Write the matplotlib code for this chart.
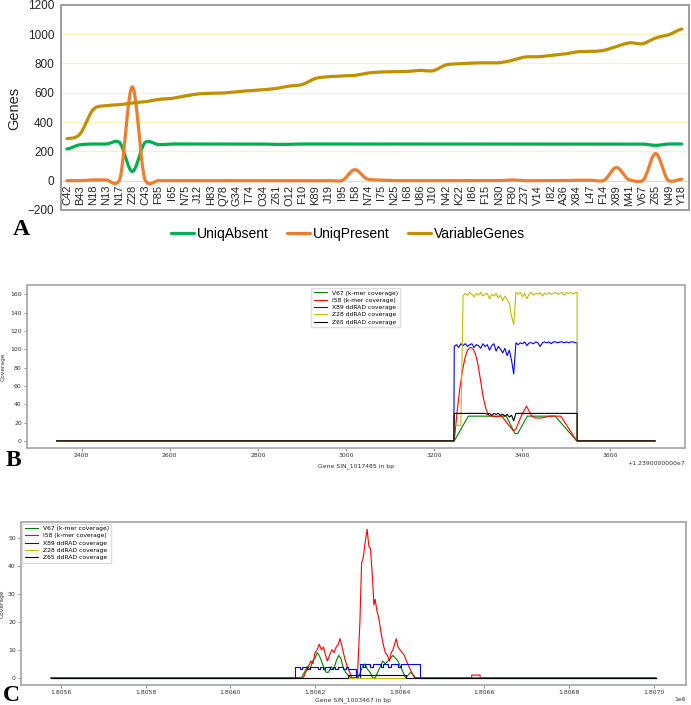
import numpy as np
import matplotlib
matplotlib.use('Agg')
import matplotlib.pyplot as plt
from matplotlib.ticker import MultipleLocator, FuncFormatter
from matplotlib.patches import Rectangle

# ---------------- panel A data ----------------
samples = ['C42', 'B43', 'N18', 'N13', 'N17', 'Z28', 'C43', 'F85', 'I65', 'N75', 'J12', 'H83',
           'Q78', 'G34', 'T74', 'O34', 'Z61', 'O12', 'F10', 'K89', 'J19', 'I95', 'I58', 'N74',
           'I75', 'N25', 'I68', 'U86', 'J10', 'N42', 'K22', 'I86', 'F15', 'N30', 'F80', 'Z37',
           'V14', 'I82', 'A36', 'X84', 'L47', 'F14', 'X89', 'M41', 'V67', 'Z65', 'N49', 'Y18']
uniq_absent = [216, 245, 250, 250, 262, 63, 262, 246, 250, 250, 250, 250,
               250, 250, 250, 250, 247, 248, 250, 250, 250, 250, 250, 250,
               250, 250, 250, 250, 250, 250, 250, 250, 250, 250, 250, 250,
               250, 250, 250, 250, 250, 250, 250, 250, 250, 241, 250, 250]
uniq_present = [0, 0, 5, 5, 0, 640, 0, 0, 0, 0, 0, 0,
                0, 0, 0, 0, 0, 0, 0, 0, 0, 0, 75, 10,
                5, 0, 0, 0, 0, 0, 0, 0, 0, 0, 5, 0,
                0, 0, 0, 3, 3, 0, 90, 5, 0, 185, 0, 10]
variable_genes = [286, 318, 484, 511, 518, 530, 538, 554, 561, 577, 591, 596,
                  598, 607, 614, 620, 629, 645, 656, 697, 709, 713, 718, 734,
                  741, 743, 745, 752, 750, 790, 797, 802, 804, 804, 820, 843,
                  845, 854, 863, 879, 881, 888, 915, 940, 934, 973, 995, 1034]

# ---------------- panel B data (x relative to 1.239e7) ----------------
b_start, b_on, b_off, b_end = 2343, 3245, 3525, 3702
b_pos = [3246, 3251, 3256, 3261, 3266, 3271, 3276, 3281, 3286, 3291, 3296, 3301, 3306, 3311,
         3316, 3321, 3326, 3331, 3336, 3341, 3346, 3351, 3356, 3361, 3366, 3371, 3376, 3381,
         3386, 3391, 3396, 3401, 3406, 3411, 3416, 3421, 3426, 3431, 3436, 3441, 3446, 3451,
         3456, 3461, 3466, 3471, 3476, 3481, 3486, 3491, 3496, 3501, 3506, 3511, 3516, 3521]
b_x89 = [103, 105, 102, 106, 104, 106, 103, 105, 106, 102, 105, 104, 101, 106,
         103, 105, 99, 104, 106, 98, 103, 100, 96, 101, 93, 99, 88, 73,
         107, 105, 107, 106, 108, 104, 107, 107, 106, 108, 107, 103, 107, 108,
         107, 108, 106, 108, 108, 107, 108, 108, 107, 108, 107, 108, 108, 107]
b_z28 = [17, 17, 17, 17, 158, 161, 159, 162, 160, 157, 161, 159, 162, 158,
         160, 161, 155, 160, 158, 161, 156, 159, 153, 158, 154, 150, 136, 127,
         162, 160, 162, 157, 161, 155, 160, 162, 159, 161, 160, 162, 158, 161,
         160, 162, 160, 161, 162, 160, 161, 162, 159, 162, 161, 162, 160, 162]
b_z65 = [30, 30, 30, 30, 30, 30, 30, 30, 30, 30, 30, 30, 30, 30,
         30, 29, 30, 28, 30, 29, 30, 28, 29, 27, 29, 26, 28, 22,
         30, 30, 30, 30, 30, 30, 30, 30, 30, 30, 30, 30, 30, 30,
         30, 30, 30, 30, 30, 30, 30, 30, 30, 30, 30, 30, 30, 30]
b_i58_x = [2343, 3246, 3252, 3258, 3264, 3270, 3276, 3282, 3288, 3294, 3300, 3306, 3312, 3318,
           3324, 3330, 3336, 3342, 3348, 3354, 3360, 3370, 3380, 3386, 3398, 3410, 3422, 3430,
           3445, 3455, 3462, 3488, 3524, 3702]
b_i58_y = [0, 0, 30, 55, 75, 90, 99, 102, 101, 95, 83, 65, 47, 35,
           28, 27, 27, 26, 27, 27, 23, 17, 11, 13, 27, 38, 27, 25,
           25, 26, 27, 27, 0, 0]
b_v67_x = [2343, 3246, 3278, 3364, 3384, 3390, 3412, 3475, 3524, 3702]
b_v67_y = [0, 0, 27, 27, 8, 8, 27, 27, 0, 0]

# ---------------- panel C data ----------------
c_start, c_end = 1805576, 1807005
c_i58_x = [1805576, 1806172, 1806178, 1806184, 1806190, 1806195, 1806200, 1806205, 1806210,
           1806215, 1806220, 1806225, 1806229, 1806234, 1806240, 1806245, 1806250, 1806255,
           1806259, 1806264, 1806270, 1806276, 1806282, 1806287, 1806300, 1806306, 1806310,
           1806314, 1806318, 1806323, 1806327, 1806331, 1806336, 1806339, 1806342, 1806346,
           1806351, 1806356, 1806361, 1806366, 1806371, 1806376, 1806380, 1806384, 1806388,
           1806392, 1806396, 1806401, 1806406, 1806411, 1806416, 1806422, 1806428, 1806435,
           1806570, 1806570, 1806590, 1806590, 1807005]
c_i58_y = [0, 0, 2, 4, 6, 5, 9, 10, 12,
           10, 11, 8, 6, 8, 10, 9, 11, 12,
           14, 11, 7, 4, 2, 0, 0, 20, 41,
           43, 48, 53, 47, 46, 35, 26, 28, 24,
           21, 16, 12, 9, 8, 6, 9, 10, 12,
           14, 11, 10, 9, 8, 6, 4, 2, 0,
           0, 1, 1, 0, 0]
c_v67_x = [1805576, 1806168, 1806175, 1806182, 1806188, 1806194, 1806200, 1806205, 1806210,
           1806215, 1806220, 1806226, 1806232, 1806238, 1806244, 1806250, 1806256, 1806261,
           1806266, 1806272, 1806278, 1806284, 1806302, 1806307, 1806312, 1806318, 1806324,
           1806330, 1806336, 1806342, 1806348, 1806354, 1806360, 1806366, 1806372, 1806378,
           1806384, 1806390, 1806396, 1806402, 1806408, 1806414, 1806420, 1806426, 1806432,
           1806438, 1807005]
c_v67_y = [0, 0, 2, 4, 3, 6, 7, 9, 8,
           6, 4, 2, 2, 4, 3, 6, 8, 7,
           4, 2, 1, 0, 0, 2, 4, 5, 3,
           2, 0, 0, 2, 4, 6, 5, 6, 7,
           8, 7, 6, 4, 2, 0, 1, 2, 1,
           0, 0]
c_x89_pos1 = [1806152, 1806158, 1806164, 1806170, 1806176, 1806182, 1806188, 1806194,
              1806200, 1806206, 1806212, 1806218, 1806224, 1806230, 1806236, 1806242,
              1806248, 1806254, 1806260, 1806266, 1806272, 1806278, 1806284, 1806290]
c_x89_val1 = [4, 4, 3, 4, 4, 3, 4, 4, 4, 3, 4, 3, 4, 4, 3, 4, 3, 4, 4, 3, 4, 3, 3, 3]
c_x89_pos2 = [1806307, 1806313, 1806319, 1806325, 1806331, 1806337, 1806343, 1806349,
              1806355, 1806361, 1806367, 1806373, 1806379, 1806385, 1806391, 1806397,
              1806403, 1806409, 1806415, 1806421, 1806427, 1806433, 1806439, 1806445]
c_x89_val2 = [5, 4, 5, 5, 4, 5, 5, 5, 4, 5, 5, 4, 5, 5, 5, 4, 5, 5, 5, 5, 5, 5, 5, 5]
c_x89_gap, c_x89_off = 1806297, 1806447
c_z65_x = [1805576, 1806277, 1806416, 1807005]
c_z65_y = [0, 1, 0, 0]

legend_labels = ['V67 (k-mer coverage)', 'I58 (k-mer coverage)', 'X89 ddRAD coverage',
                 'Z28 ddRAD coverage', 'Z65 ddRAD coverage']


def smooth(xs, ys, s=1.0, n=24):
    # Excel style smoothed line: cubic hermite through the points, s scales the slopes
    xs = np.asarray(xs, float)
    ys = np.asarray(ys, float)
    yp = np.concatenate([[ys[0]], ys, [ys[-1]]])
    m = (yp[2:] - yp[:-2]) / 2 * s
    t = np.linspace(0, 1, n)
    ox, oy = [], []
    for i in range(len(xs) - 1):
        h00 = 2 * t ** 3 - 3 * t ** 2 + 1
        h10 = t ** 3 - 2 * t ** 2 + t
        h01 = -2 * t ** 3 + 3 * t ** 2
        h11 = t ** 3 - t ** 2
        ox.append(xs[i] + t * (xs[i + 1] - xs[i]))
        oy.append(h00 * ys[i] + h10 * m[i] + h01 * ys[i + 1] + h11 * m[i + 1])
    return np.concatenate(ox), np.concatenate(oy)


W, H = 691, 705
fig = plt.figure(figsize=(W / 100, H / 100), dpi=100)

# ---------------- panel A ----------------
sans = 'Liberation Sans'
axA = fig.add_axes([61 / W, 1 - 210 / H, 628 / W, 205.3 / H])
idx = np.arange(len(samples))
for vals, col, lab, s in [(uniq_absent, '#00B050', 'UniqAbsent', 0.6),
                          (uniq_present, '#ED7D31', 'UniqPresent', 0.45),
                          (variable_genes, '#BF9000', 'VariableGenes', 1.0)]:
    sx, sy = smooth(idx, vals, s)
    axA.plot(sx, sy, color=col, lw=2.3, label=lab, solid_capstyle='round')
axA.set_xlim(-0.45, len(samples) - 0.45)
axA.set_ylim(-200, 1200)
axA.set_yticks(range(-200, 1201, 200))
for v in range(200, 1200, 200):
    axA.axhline(v, color='#FFF0C0', lw=0.9, zorder=0)
for sp in ['top', 'left', 'right']:
    axA.spines[sp].set_visible(False)
axA.spines['bottom'].set_position(('data', 0))
axA.spines['bottom'].set_color('#D9D9D9')
axA.spines['bottom'].set_zorder(0)
axA.add_patch(Rectangle((0, 0), 1, 1, transform=axA.transAxes, fill=False,
                        edgecolor='#8C8C8C', lw=1.2, clip_on=False))
axA.set_xticks(idx)
axA.set_xticklabels(samples, rotation=90, fontsize=8, family=sans, color='#262626')
axA.tick_params(axis='both', length=0)
axA.tick_params(axis='x', pad=3)
axA.tick_params(axis='y', pad=5)
for lb in axA.get_yticklabels():
    lb.set_fontsize(8.5)
    lb.set_family(sans)
    lb.set_color('#262626')
fig.text(14 / W, 1 - 108 / H, 'Genes', rotation=90, ha='center', va='center',
         fontsize=10.5, family=sans, color='#262626')
fig.legend(*axA.get_legend_handles_labels(), loc='center', bbox_to_anchor=(348 / W, 1 - 234 / H),
           ncol=3, frameon=False, handlelength=1.65, handletextpad=0.2, columnspacing=1.35,
           prop={'family': sans, 'size': 10})

colors = ['g', 'r', 'b', 'y', 'k']


def style_cov(ax):
    for sp in ax.spines.values():
        sp.set_color('#ABABAB')
        sp.set_linewidth(1.3)
    ax.tick_params(labelsize=4.4, length=2, width=0.5, color='#666666', pad=1.5,
                   labelcolor='#333333')


# ---------------- panel B ----------------
axB = fig.add_axes([26.7 / W, 1 - 448.3 / H, 658.3 / W, 163.3 / H])
bx = [b_start, b_on] + b_pos + [b_off, b_off, b_end]
axB.plot(b_v67_x, b_v67_y, color=colors[0], lw=0.8, label=legend_labels[0])
axB.plot(b_i58_x, b_i58_y, color=colors[1], lw=0.8, label=legend_labels[1])
for vals, col, lab in [(b_x89, colors[2], legend_labels[2]),
                       (b_z28, colors[3], legend_labels[3]),
                       (b_z65, colors[4], legend_labels[4])]:
    axB.plot(bx, [0, 0] + vals + [vals[-1], 0, 0], color=col, lw=0.8, label=lab)
axB.xaxis.set_major_locator(MultipleLocator(200))
axB.yaxis.set_major_locator(MultipleLocator(20))
style_cov(axB)
axB.set_ylabel('Coverage', fontsize=4.2, color='#333333')
axB.yaxis.set_label_coords(-0.032, 0.5)
axB.set_xlabel('Gene SIN_1017485 in bp', fontsize=4.4, color='#333333')
axB.xaxis.set_label_coords(0.5, -0.093)
axB.text(1.0, -0.092, '+1.2390000000e7', transform=axB.transAxes, ha='right', va='center',
         fontsize=4.4, color='#333333')
axB.legend(loc='upper center', fontsize=4.3, handlelength=2.2, labelspacing=0.35,
           borderpad=0.4, framealpha=1, edgecolor='#DDDDDD', fancybox=False)

# ---------------- panel C ----------------
axC = fig.add_axes([20.7 / W, 1 - 685.3 / H, 665.3 / W, 163.5 / H])
axC.plot(c_v67_x, c_v67_y, color=colors[0], lw=0.8, label=legend_labels[0])
axC.plot(c_i58_x, c_i58_y, color=colors[1], lw=0.8, label=legend_labels[1])
cx = [c_start] + c_x89_pos1 + [c_x89_gap] + c_x89_pos2 + [c_x89_off, c_end]
cy = [0] + c_x89_val1 + [0] + c_x89_val2 + [0, 0]
axC.plot(cx, cy, color=colors[2], lw=0.8, drawstyle='steps-post', label=legend_labels[2])
axC.plot([c_start, c_end], [0, 0], color=colors[3], lw=0.8, label=legend_labels[3])
axC.plot(c_z65_x, c_z65_y, color=colors[4], lw=0.8, drawstyle='steps-post', label=legend_labels[4])
axC.xaxis.set_major_locator(MultipleLocator(200))
axC.xaxis.set_major_formatter(FuncFormatter(lambda v, p: '%.4f' % (v / 1e6)))
axC.yaxis.set_major_locator(MultipleLocator(10))
style_cov(axC)
axC.set_ylabel('Coverage', fontsize=4.2, color='#333333')
axC.yaxis.set_label_coords(-0.024, 0.5)
axC.set_xlabel('Gene SIN_1003467 in bp', fontsize=4.4, color='#333333', va='center')
axC.xaxis.set_label_coords(0.5, -0.088)
axC.text(1.0, -0.088, '1e6', transform=axC.transAxes, ha='right', va='center',
         fontsize=4.4, color='#333333')
axC.legend(loc='upper left', fontsize=4.3, handlelength=2.2, labelspacing=0.35,
           borderpad=0.4, borderaxespad=0.3, framealpha=1, edgecolor='#DDDDDD', fancybox=False)

# panel letters
for letter, x, y in [('A', 13, 235), ('B', 6, 466), ('C', 3, 701)]:
    fig.text(x / W, 1 - y / H, letter, fontsize=17, weight='bold', family='Liberation Serif',
             ha='left', va='baseline')

fig.savefig('out.png', dpi=100)
